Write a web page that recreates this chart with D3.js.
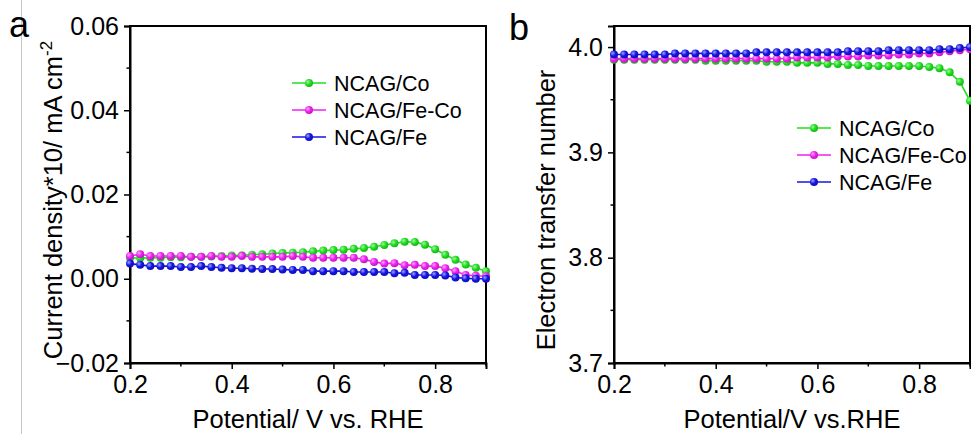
<!DOCTYPE html>
<html>
<head>
<meta charset="utf-8">
<script src="https://cdn.jsdelivr.net/npm/d3@7"></script>
<style>
  body { margin: 0; background: #fff; }
  svg { display: block; font-family: Arial, "Liberation Sans", sans-serif; }
</style>
</head>
<body>
<div id="chart"></div>
<script>
// Potential (V vs. RHE), shared by both panels
const potential = [0.20, 0.22, 0.24, 0.26, 0.28, 0.30, 0.32, 0.34, 0.36, 0.38,
                   0.40, 0.42, 0.44, 0.46, 0.48, 0.50, 0.52, 0.54, 0.56, 0.58,
                   0.60, 0.62, 0.64, 0.66, 0.68, 0.70, 0.72, 0.74, 0.76, 0.78,
                   0.80, 0.82, 0.84, 0.86, 0.88, 0.90];

const seriesNames = ["NCAG/Co", "NCAG/Fe-Co", "NCAG/Fe"];
const seriesColors = ["#1ee01e", "#f020f0", "#1414e6"];

// panel a: current density*10 (mA cm-2)
const currentCo = [0.0050, 0.0049, 0.0050, 0.0050, 0.0051, 0.0051, 0.0052, 0.0052, 0.0053, 0.0054,
                   0.0055, 0.0056, 0.0057, 0.0058, 0.0060, 0.0061, 0.0062, 0.0063, 0.0065, 0.0067,
                   0.0068, 0.0069, 0.0071, 0.0073, 0.0076, 0.0080, 0.0084, 0.0088, 0.0087, 0.0081,
                   0.0070, 0.0057, 0.0045, 0.0034, 0.0026, 0.0018];
const currentFeCo = [0.0054, 0.0058, 0.0054, 0.0054, 0.0054, 0.0054, 0.0052, 0.0052, 0.0054, 0.0052,
                     0.0052, 0.0054, 0.0052, 0.0052, 0.0052, 0.0052, 0.0054, 0.0052, 0.0050, 0.0050,
                     0.0050, 0.0050, 0.0050, 0.0046, 0.0040, 0.0036, 0.0037, 0.0032, 0.0033, 0.0030,
                     0.0030, 0.0025, 0.0018, 0.0009, 0.0007, 0.0006];
const currentFe = [0.0036, 0.0033, 0.0030, 0.0030, 0.0030, 0.0028, 0.0028, 0.0030, 0.0028, 0.0026,
                   0.0025, 0.0025, 0.0024, 0.0023, 0.0023, 0.0022, 0.0021, 0.0021, 0.0018, 0.0018,
                   0.0018, 0.0018, 0.0016, 0.0016, 0.0016, 0.0016, 0.0013, 0.0014, 0.0009, 0.0009,
                   0.0009, 0.0008, 0.0003, 0.0001, 0.0000, 0.0000];

// panel b: electron transfer number
const electronCo = [3.988, 3.988, 3.988, 3.988, 3.988, 3.988, 3.988, 3.988, 3.988, 3.987,
                    3.987, 3.987, 3.987, 3.987, 3.987, 3.986, 3.986, 3.986, 3.985, 3.985,
                    3.985, 3.984, 3.984, 3.983, 3.983, 3.982, 3.982, 3.982, 3.982, 3.982,
                    3.982, 3.981, 3.980, 3.976, 3.967, 3.949];
const electronFeCo = [3.989, 3.989, 3.989, 3.989, 3.989, 3.989, 3.989, 3.989, 3.989, 3.989,
                      3.989, 3.989, 3.989, 3.989, 3.989, 3.989, 3.989, 3.989, 3.990, 3.990,
                      3.990, 3.990, 3.991, 3.991, 3.991, 3.992, 3.992, 3.992, 3.993, 3.993,
                      3.994, 3.994, 3.995, 3.996, 3.997, 3.998];
const electronFe = [3.993, 3.993, 3.993, 3.993, 3.993, 3.993, 3.994, 3.994, 3.994, 3.994,
                    3.994, 3.994, 3.994, 3.994, 3.995, 3.995, 3.995, 3.995, 3.995, 3.995,
                    3.995, 3.995, 3.995, 3.996, 3.996, 3.996, 3.996, 3.997, 3.997, 3.997,
                    3.997, 3.997, 3.998, 3.998, 3.999, 4.000];

const xTicks = [0.2, 0.4, 0.6, 0.8];
const yTicksA = [-0.02, 0.00, 0.02, 0.04, 0.06];
const yTicksB = [3.7, 3.8, 3.9, 4.0];

const width = 971, height = 434;
const svg = d3.select("#chart").append("svg")
    .attr("width", width)
    .attr("height", height);

// ball-shaped markers
const defs = svg.append("defs");
seriesColors.forEach((c, i) => {
  const g = defs.append("radialGradient")
      .attr("id", "ball" + i)
      .attr("cx", "35%").attr("cy", "35%").attr("r", "65%");
  g.append("stop").attr("offset", "0%").attr("stop-color", d3.interpolateRgb(c, "#fff")(0.6));
  g.append("stop").attr("offset", "55%").attr("stop-color", c);
  g.append("stop").attr("offset", "100%").attr("stop-color", d3.color(c).darker(0.6));
});

// thin grey separator on the far left
svg.append("line")
    .attr("x1", 21.5).attr("x2", 21.5)
    .attr("y1", 0).attr("y2", height)
    .attr("stroke", "#c8c8c8")
    .attr("stroke-width", 1);

function drawPanel(opt) {
  const x = d3.scaleLinear().domain([0.2, 0.9]).range([opt.left, opt.right]);
  const y = d3.scaleLinear().domain(opt.yDomain).range([opt.bottom, opt.top]);
  const g = svg.append("g");

  // frame
  g.append("rect")
      .attr("x", opt.left).attr("y", opt.top)
      .attr("width", opt.right - opt.left)
      .attr("height", opt.bottom - opt.top)
      .attr("fill", "none")
      .attr("stroke", "#000")
      .attr("stroke-width", 2);

  // bottom axis
  const xAxis = g.append("g")
      .attr("transform", `translate(0,${opt.bottom})`)
      .call(d3.axisBottom(x).tickValues(xTicks).tickSize(6).tickPadding(6)
        .tickFormat(d3.format(".1f")));
  xAxis.append("g").selectAll("line")
      .data([0.3, 0.5, 0.7, 0.9])
      .join("line")
      .attr("x1", d => x(d)).attr("x2", d => x(d))
      .attr("y1", 0).attr("y2", 3.5)
      .attr("stroke", "#000").attr("stroke-width", 1.5);

  // left axis
  const yAxis = g.append("g")
      .attr("transform", `translate(${opt.left},0)`)
      .call(d3.axisLeft(y).tickValues(opt.yTicks).tickSize(6).tickPadding(5)
        .tickFormat(opt.yFormat));
  yAxis.append("g").selectAll("line")
      .data(opt.yMinor)
      .join("line")
      .attr("y1", d => y(d)).attr("y2", d => y(d))
      .attr("x1", 0).attr("x2", -3.5)
      .attr("stroke", "#000").attr("stroke-width", 1.5);

  [xAxis, yAxis].forEach(a => {
    a.select(".domain").attr("stroke-width", 2);
    a.selectAll(".tick line").attr("stroke-width", 1.5);
    a.selectAll(".tick text").attr("font-size", 25).attr("fill", "#000")
        .attr("font-family", "Arial, 'Liberation Sans', sans-serif");
  });

  // data
  const line = d3.line().x((d, i) => x(potential[i])).y(d => y(d));
  opt.series.forEach((vals, i) => {
    g.append("path")
        .datum(vals)
        .attr("fill", "none")
        .attr("stroke", seriesColors[i])
        .attr("stroke-width", 1.6)
        .attr("d", line);
  });
  opt.series.forEach((vals, i) => {
    g.append("g").selectAll("circle")
        .data(vals)
        .join("circle")
        .attr("cx", (d, j) => x(potential[j]))
        .attr("cy", d => y(d))
        .attr("r", 4)
        .attr("fill", `url(#ball${i})`);
  });

  // legend
  const legend = g.append("g").attr("transform", `translate(${opt.legendX},${opt.legendY})`);
  seriesNames.forEach((name, i) => {
    const row = legend.append("g").attr("transform", `translate(0,${i * opt.legendStep})`);
    row.append("line")
        .attr("x1", 0).attr("x2", 34)
        .attr("stroke", seriesColors[i]).attr("stroke-width", 1.6);
    row.append("circle")
        .attr("cx", 17).attr("r", 4)
        .attr("fill", `url(#ball${i})`);
    row.append("text")
        .attr("x", 42).attr("y", 8)
        .attr("font-size", 21.5)
        .text(name);
  });

  // axis titles
  g.append("text")
      .attr("x", (opt.left + opt.right) / 2)
      .attr("y", 428)
      .attr("text-anchor", "middle")
      .attr("font-size", 25.5)
      .text(opt.xTitle);

  const yt = g.append("text")
      .attr("transform", `translate(${opt.yTitleX},${opt.yTitleY}) rotate(-90)`)
      .attr("text-anchor", "middle")
      .attr("font-size", 25.5)
      .text(opt.yTitle);
  if (opt.yTitleSup) {
    yt.append("tspan")
        .attr("dy", -10)
        .attr("font-size", 17)
        .text(opt.yTitleSup);
  }

  // panel letter
  g.append("text")
      .attr("x", opt.letterX).attr("y", opt.letterY)
      .attr("font-size", 36)
      .text(opt.letter);
}

drawPanel({
  left: 130, right: 486, top: 26, bottom: 363,
  yDomain: [-0.02, 0.06],
  yTicks: yTicksA,
  yMinor: [-0.01, 0.01, 0.03, 0.05],
  yFormat: d3.format(".2f"),
  series: [currentCo, currentFeCo, currentFe],
  legendX: 292, legendY: 83, legendStep: 27,
  xTitle: "Potential/ V vs. RHE",
  yTitle: "Current density*10/ mA cm",
  yTitleSup: "-2",
  yTitleX: 62, yTitleY: 200,
  letter: "a", letterX: 9, letterY: 37
});

drawPanel({
  left: 614, right: 970, top: 26, bottom: 363,
  yDomain: [3.7, 4.02],
  yTicks: yTicksB,
  yMinor: [3.75, 3.85, 3.95],
  yFormat: d3.format(".1f"),
  series: [electronCo, electronFeCo, electronFe],
  legendX: 797, legendY: 128, legendStep: 27,
  xTitle: "Potential/V vs.RHE",
  yTitle: "Electron transfer number",
  yTitleX: 555, yTitleY: 210,
  letter: "b", letterX: 509, letterY: 40
});
</script>
</body>
</html>
